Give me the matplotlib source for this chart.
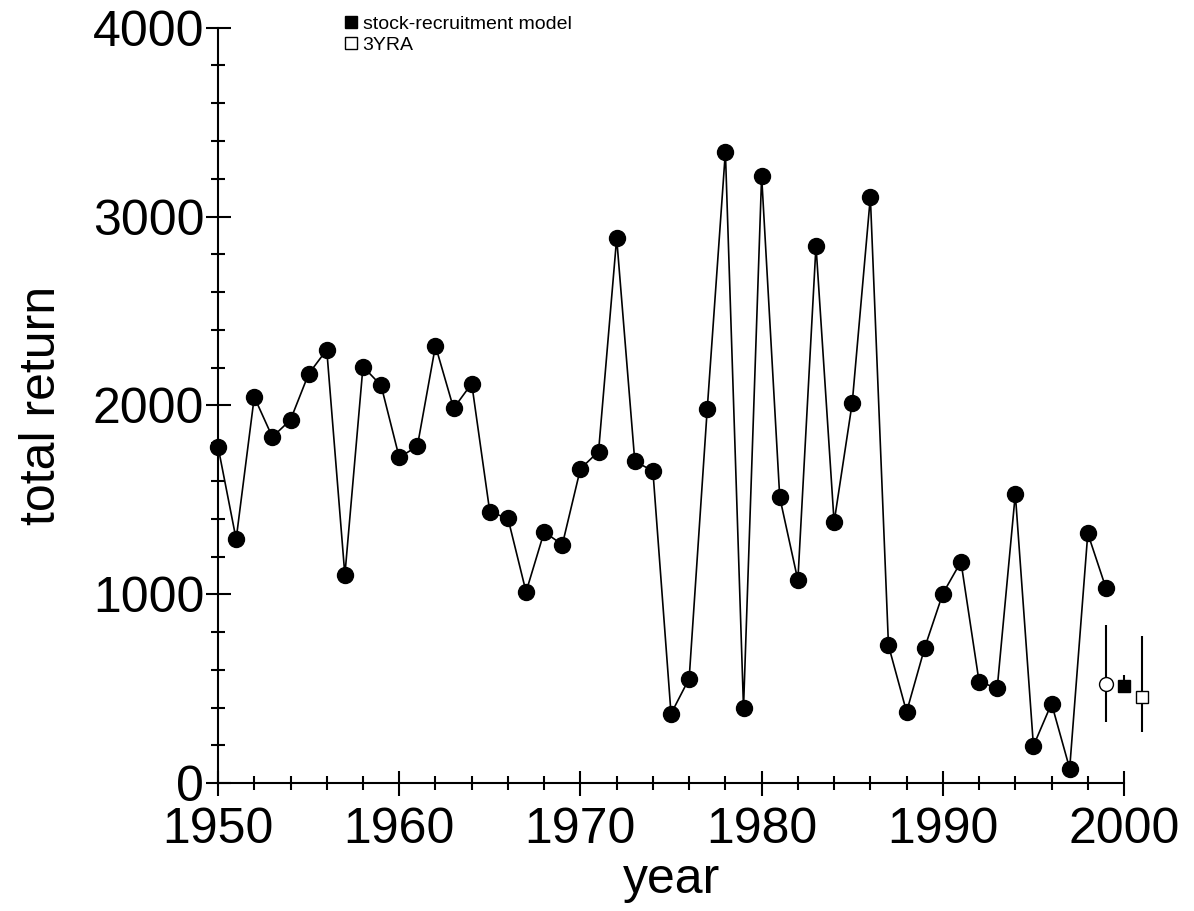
import matplotlib
matplotlib.use("Agg")
import matplotlib.pyplot as plt
from matplotlib.lines import Line2D
from matplotlib.ticker import MultipleLocator

plt.rcParams['font.family'] = ['Liberation Sans', 'DejaVu Sans']

# observed total returns
years = list(range(1950, 2000))
returns = [1782, 1292, 2045, 1833, 1924, 2167, 2295, 1102, 2206, 2106,
           1725, 1784, 2316, 1985, 2116, 1436, 1403, 1013, 1331, 1263,
           1665, 1756, 2886, 1705, 1653, 368, 554, 1984, 3344, 398,
           3215, 1514, 1075, 2846, 1382, 2014, 3104, 730, 378, 718,
           1004, 1173, 538, 503, 1532, 198, 422, 78, 1323, 1034]

# forecasts with ranges
circle_x, circle_y, circle_lo, circle_hi = 1999, 526, 323, 836
sr_x, sr_y, sr_lo, sr_hi = 2000, 517, 476, 573
yra_x, yra_y, yra_lo, yra_hi = 2001, 459, 270, 782

fig = plt.figure(figsize=(11.94, 9.11), dpi=100)
ax = fig.add_axes([0.1826, 0.1402, 0.9414 - 0.1826, 0.9696 - 0.1402])

ax.plot(years, returns, color='black', lw=1.2, marker='o', markersize=11.5,
        clip_on=False, zorder=3)

ax.vlines([circle_x, yra_x], [circle_lo, yra_lo], [circle_hi, yra_hi],
          color='black', lw=1.5, clip_on=False)
ax.vlines(sr_x, sr_lo, sr_hi, color='black', lw=1.5, clip_on=False)
ax.plot(circle_x, circle_y, marker='o', markersize=10, mfc='white', mec='black',
        mew=1, linestyle='none', clip_on=False, zorder=4)
ax.plot(sr_x, sr_y, marker='s', markersize=9, color='black',
        linestyle='none', clip_on=False, zorder=4)
ax.plot(yra_x, yra_y, marker='s', markersize=9, mfc='white', mec='black',
        mew=1, linestyle='none', clip_on=False, zorder=4)

ax.set_xlim(1950, 2000)
ax.set_ylim(0, 4000)
ax.xaxis.set_major_locator(MultipleLocator(10))
ax.xaxis.set_minor_locator(MultipleLocator(2))
ax.yaxis.set_major_locator(MultipleLocator(1000))
ax.yaxis.set_minor_locator(MultipleLocator(200))

for s in ['top', 'right']:
    ax.spines[s].set_visible(False)
for s in ['left', 'bottom']:
    ax.spines[s].set_linewidth(1.5)

ax.tick_params(which='major', direction='inout', length=18, width=1.5,
               labelsize=36, pad=1)
ax.tick_params(axis='x', which='major', pad=8)
ax.tick_params(which='minor', direction='inout', length=10, width=1.5)

ax.set_xlabel('year', fontsize=36, labelpad=3)
ax.set_ylabel('total return', fontsize=36, labelpad=20)

handles = [
    Line2D([], [], marker='s', linestyle='none', color='black', markersize=9),
    Line2D([], [], marker='s', linestyle='none', mfc='white', mec='black',
           mew=1, markersize=9),
]
ax.legend(handles, ['stock-recruitment model', '3YRA'], loc='upper left',
          bbox_to_anchor=(0.121, 1.04), frameon=False, fontsize=14,
          handlelength=0.6, handletextpad=0.3, labelspacing=0.2)

fig.savefig('out.png', dpi=100)
